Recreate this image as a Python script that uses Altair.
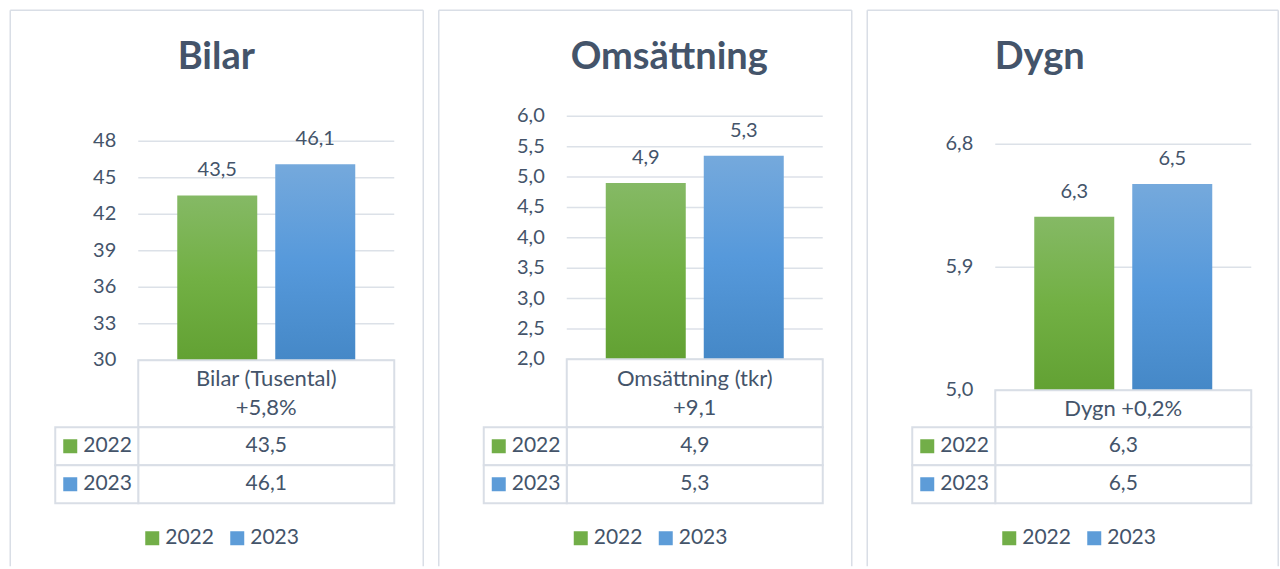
import altair as alt
import pandas as pd

# ---------------- data ----------------
years = ["2022", "2023"]
legend_colors = ["#72AE48", "#5D9CD8"]

bilar_title = "Bilar"
bilar_values = [43.55, 46.1]
bilar_labels = ["43,5", "46,1"]
bilar_ticks = [30, 33, 36, 39, 42, 45, 48]
bilar_tick_labels = ["30", "33", "36", "39", "42", "45", "48"]
bilar_header = "Bilar (Tusental)\n+5,8%"

oms_title = "Omsättning"
oms_values = [4.9, 5.35]
oms_labels = ["4,9", "5,3"]
oms_ticks = [2.0, 2.5, 3.0, 3.5, 4.0, 4.5, 5.0, 5.5, 6.0]
oms_tick_labels = ["2,0", "2,5", "3,0", "3,5", "4,0", "4,5", "5,0", "5,5", "6,0"]
oms_header = "Omsättning (tkr)\n+9,1"

dygn_title = "Dygn"
dygn_values = [6.27, 6.51]
dygn_labels = ["6,3", "6,5"]
dygn_ticks = [5.0, 5.9, 6.8]
dygn_tick_labels = ["5,0", "5,9", "6,8"]
dygn_header = "Dygn +0,2%"

# ---------------- style ----------------
FONT = "Lato"
TEXT = "#44546A"
GRID = "#DCE1E8"
BORDER = "#D9DEE6"
W = 339      # width of each row (left column + plot)
LEFT = 83    # width of the table's left column
BOTTOM = 556

G_GREEN = alt.Gradient(
    gradient="linear", x1=0, x2=0, y1=0, y2=1,
    stops=[alt.GradientStop(color="#85B965", offset=0),
           alt.GradientStop(color="#72B044", offset=0.5),
           alt.GradientStop(color="#62A133", offset=1)])
G_BLUE = alt.Gradient(
    gradient="linear", x1=0, x2=0, y1=0, y2=1,
    stops=[alt.GradientStop(color="#75A9DC", offset=0),
           alt.GradientStop(color="#5699DB", offset=0.5),
           alt.GradientStop(color="#4588C7", offset=1)])


def panel(title, title_x, values, labels, ticks, tick_labels, header, header_dy, h0, hb, hh, right):
    # --- row 0: title + panel frame
    t_df = pd.DataFrame({"title": [title]})
    base0 = alt.Chart(t_df)
    frame_l = base0.mark_rule(color=BORDER, strokeWidth=1.5).encode(
        x=alt.value(-45), y=alt.value(0), y2=alt.value(BOTTOM))
    frame_r = base0.mark_rule(color=BORDER, strokeWidth=1.5).encode(
        x=alt.value(right), y=alt.value(0), y2=alt.value(BOTTOM))
    frame_t = base0.mark_rule(color=BORDER, strokeWidth=1.5).encode(
        x=alt.value(-45), x2=alt.value(right), y=alt.value(0))
    title_mark = base0.mark_text(font=FONT, fontSize=38, fontWeight="bold", color=TEXT,
                                 align="center", baseline="alphabetic").encode(
        text="title:N", x=alt.value(title_x), y=alt.value(59))
    row0 = alt.layer(frame_l, frame_r, frame_t, title_mark).properties(width=W, height=h0)

    # --- row 1: bars
    bar_df = pd.DataFrame({"year": years, "value": values, "label": labels})
    tick_df = pd.DataFrame({"tick": ticks, "tick_label": tick_labels})
    ymin, ymax = ticks[0], ticks[-1]
    yscale = alt.Scale(domain=[ymin, ymax], zero=False, nice=False)
    xscale = alt.Scale(domain=years, paddingInner=0.18367, paddingOuter=0.82143, align=0.7578)

    grid = alt.Chart(tick_df).mark_rule(color=GRID, strokeWidth=1.5).encode(
        y=alt.Y("tick:Q", scale=yscale, axis=None),
        x=alt.value(LEFT), x2=alt.value(W))
    tick_text = alt.Chart(tick_df).mark_text(font=FONT, fontSize=20, color=TEXT,
                                             align="right", baseline="middle").encode(
        y=alt.Y("tick:Q", scale=yscale, axis=None),
        x=alt.value(LEFT - 22), text="tick_label:N")

    def bar_layer(year, grad):
        return alt.Chart(bar_df).transform_filter(alt.datum.year == year).mark_bar(color=grad).encode(
            x=alt.X("year:N", scale=xscale, axis=None),
            y=alt.Y("value:Q", scale=yscale, axis=None),
            y2=alt.datum(ymin))

    value_text = alt.Chart(bar_df).mark_text(font=FONT, fontSize=20, color=TEXT,
                                             baseline="middle", dy=-25).encode(
        x=alt.X("year:N", scale=xscale, axis=None),
        y=alt.Y("value:Q", scale=yscale, axis=None),
        text="label:N")
    row1 = alt.layer(grid, tick_text, bar_layer(years[0], G_GREEN), bar_layer(years[1], G_BLUE),
                     value_text).properties(width=W, height=hb)

    # --- row 2: table header cell
    h_df = pd.DataFrame({"col": ["value"], "row": ["header"], "text": [header]})
    hx = alt.X("col:N", scale=alt.Scale(domain=["value"], range=[LEFT, W],
                                        paddingInner=0, paddingOuter=0), axis=None)
    hy = alt.Y("row:N", scale=alt.Scale(paddingInner=0, paddingOuter=0), axis=None)
    hcell = alt.Chart(h_df).mark_rect(fill="white", stroke=BORDER, strokeWidth=2).encode(x=hx, y=hy)
    htext = alt.Chart(h_df).mark_text(font=FONT, fontSize=22, color=TEXT, baseline="middle",
                                      lineBreak="\n", lineHeight=29, dy=header_dy).encode(
        x=hx, y=hy, text="text:N")
    row2 = alt.layer(hcell, htext).properties(width=W, height=hh)

    # --- row 3: table body
    tb_df = pd.DataFrame({"year": years, "label": labels, "vcol": ["value"] * 2,
                          "ycol": ["year"] * 2, "color": legend_colors})
    vx = alt.X("vcol:N", scale=alt.Scale(domain=["value"], range=[LEFT, W],
                                         paddingInner=0, paddingOuter=0), axis=None)
    yx = alt.X("ycol:N", scale=alt.Scale(domain=["year"], range=[0, LEFT],
                                         paddingInner=0, paddingOuter=0), axis=None)
    ry = alt.Y("year:N", scale=alt.Scale(domain=years, paddingInner=0, paddingOuter=0), axis=None)
    tb = alt.Chart(tb_df)
    vcell = tb.mark_rect(fill="white", stroke=BORDER, strokeWidth=2).encode(x=vx, y=ry)
    vtext = tb.mark_text(font=FONT, fontSize=21, color=TEXT, baseline="middle").encode(
        x=vx, y=ry, text="label:N")
    ycell = tb.mark_rect(fill="white", stroke=BORDER, strokeWidth=2).encode(x=yx, y=ry)
    ysq = tb.mark_square(size=196, xOffset=-26.5, opacity=1).encode(
        x=yx, y=ry, color=alt.Color("color:N", scale=None))
    ytext = tb.mark_text(font=FONT, fontSize=21, color=TEXT, baseline="middle",
                         align="left", dx=-13.5).encode(x=yx, y=ry, text="year:N")
    row3 = alt.layer(vcell, vtext, ycell, ysq, ytext).resolve_scale(x="independent").properties(
        width=W, height=76)

    # --- row 4: legend
    lg_df = pd.DataFrame({"year": years, "color": legend_colors})
    lx = alt.X("year:N", scale=alt.Scale(type="point", domain=years, range=[97, 182], padding=0),
               axis=None)
    lsq = alt.Chart(lg_df).mark_square(size=196, opacity=1).encode(
        x=lx, y=alt.value(35), color=alt.Color("color:N", scale=None))
    ltext = alt.Chart(lg_df).mark_text(font=FONT, fontSize=21, color=TEXT, baseline="middle",
                                       align="left", dx=13).encode(
        x=lx, y=alt.value(35), text="year:N")
    row4 = alt.layer(lsq, ltext).properties(width=W, height=50)

    return alt.vconcat(row0, row1, row2, row3, row4, spacing=0, bounds="flush")


p1 = panel(bilar_title, 161, bilar_values, bilar_labels, bilar_ticks, bilar_tick_labels,
           bilar_header, -14.5, 131, 219, 67, 368)
p2 = panel(oms_title, 185.5, oms_values, oms_labels, oms_ticks, oms_tick_labels,
           oms_header, -14.5, 106, 243, 68, 368)
p3 = panel(dygn_title, 127.5, dygn_values, dygn_labels, dygn_ticks, dygn_tick_labels,
           dygn_header, 0, 134, 246, 37, 366)

chart = alt.hconcat(p1, p2, p3, spacing=13.5, bounds="full").properties(
    padding={"left": 9.25, "top": 9.25, "right": 0, "bottom": 0},
    background="white",
).configure_view(strokeWidth=0)

chart.save("out.html", embed_options={"renderer": "svg", "actions": False})
